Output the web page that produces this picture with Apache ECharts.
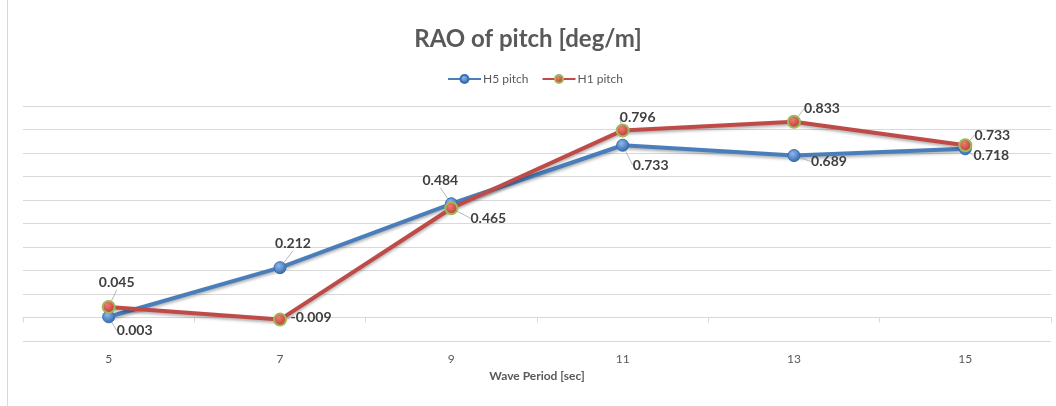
<!DOCTYPE html>
<html>
<head>
<meta charset="utf-8">
<title>RAO of pitch</title>
<script src="https://cdn.jsdelivr.net/npm/echarts@6/dist/echarts.min.js"></script>
<style>
  html, body { margin: 0; padding: 0; background: #ffffff; }
  #chart { width: 1056px; height: 406px; }
</style>
</head>
<body>
<div id="chart"></div>
<script>
// Wave periods (sec) and pitch RAO values (deg/m)
const periods = ['5', '7', '9', '11', '13', '15'];
const h5Pitch = [0.003, 0.212, 0.484, 0.733, 0.689, 0.718];
const h1Pitch = [0.045, -0.009, 0.465, 0.796, 0.833, 0.733];

// Label offsets from each marker centre [dx, dy], px
const h5LabelShift = [[26, 14], [13, -24], [-11, -23], [28, 20], [35, 6], [26, 7]];
const h1LabelShift = [[8, -24], [31, -2], [37, 10], [15, -13], [28, -13], [27, -10]];

const BLUE = '#4A7EBB';
const RED = '#BE4B48';

function sphere(light, dark) {
  return new echarts.graphic.RadialGradient(0.4, 0.35, 0.7, [
    { offset: 0, color: light },
    { offset: 1, color: dark }
  ]);
}

const labelFont = {
  show: true,
  position: 'inside',
  fontFamily: 'Lato, "Open Sans", sans-serif',
  fontWeight: 'bold',
  fontSize: 14,
  color: '#404040',
  formatter: p => p.value.toFixed(3)
};

const chart = echarts.init(document.getElementById('chart'), null, { renderer: 'canvas' });

chart.setOption({
  animation: false,
  backgroundColor: '#ffffff',
  title: {
    text: 'RAO of pitch [deg/m]',
    left: 'center',
    top: 22,
    textStyle: {
      fontFamily: 'Lato, "Open Sans", sans-serif',
      fontWeight: 'bold',
      fontSize: 24,
      color: '#595959'
    }
  },
  legend: {
    top: 68,
    left: 442,
    itemWidth: 33,
    itemHeight: 10,
    itemGap: 13,
    textStyle: {
      fontFamily: 'Lato, "Open Sans", sans-serif',
      fontSize: 12,
      color: '#595959',
      padding: [0, 0, 0, -3]
    },
    data: ['H5 pitch', 'H1 pitch']
  },
  grid: {
    left: 23,
    right: 5,
    top: 106,
    bottom: 65,
    containLabel: false
  },
  xAxis: {
    type: 'category',
    data: periods,
    boundaryGap: true,
    name: 'Wave Period [sec]',
    nameLocation: 'middle',
    nameGap: 23,
    nameTextStyle: {
      fontFamily: 'Lato, "Open Sans", sans-serif',
      fontWeight: 'bold',
      fontSize: 12,
      color: '#595959',
      verticalAlign: 'top'
    },
    axisLine: { lineStyle: { color: '#D9D9D9', width: 1 } },
    axisTick: { show: true, length: 5, lineStyle: { color: '#D9D9D9' } },
    axisLabel: {
      margin: 12,
      fontFamily: 'Lato, "Open Sans", sans-serif',
      fontSize: 12,
      color: '#595959'
    },
    splitLine: { show: false }
  },
  yAxis: {
    type: 'value',
    min: -0.1,
    max: 0.9,
    interval: 0.1,
    axisLine: { show: false },
    axisTick: { show: false },
    axisLabel: { show: false },
    splitLine: { lineStyle: { color: '#D9D9D9', width: 1 } }
  },
  graphic: [{
    type: 'line',
    shape: { x1: 7.5, y1: 0, x2: 7.5, y2: 406 },
    style: { stroke: '#D9D9D9', lineWidth: 1 },
    silent: true
  }],
  series: [
    {
      name: 'H5 pitch',
      type: 'line',
      data: h5Pitch,
      symbol: 'circle',
      symbolSize: 12,
      lineStyle: {
        color: BLUE, width: 4,
        shadowColor: 'rgba(0,0,0,0.3)', shadowBlur: 3, shadowOffsetY: 2
      },
      itemStyle: {
        color: sphere('#8DB8EC', '#2C62A8'),
        borderColor: '#3A6DB0',
        borderWidth: 1
      },
      label: labelFont,
      labelLine: { show: true, lineStyle: { color: '#A6A6A6', width: 0.8 } },
      labelLayout: p => ({ dx: h5LabelShift[p.dataIndex][0], dy: h5LabelShift[p.dataIndex][1] }),
      z: 2
    },
    {
      name: 'H1 pitch',
      type: 'line',
      data: h1Pitch,
      symbol: 'circle',
      symbolSize: 12,
      lineStyle: {
        color: RED, width: 4,
        shadowColor: 'rgba(0,0,0,0.3)', shadowBlur: 3, shadowOffsetY: 2
      },
      itemStyle: {
        color: sphere('#F07C72', '#B8302C'),
        borderColor: '#9BBB59',
        borderWidth: 2
      },
      label: labelFont,
      labelLine: { show: true, lineStyle: { color: '#A6A6A6', width: 0.8 } },
      labelLayout: p => ({ dx: h1LabelShift[p.dataIndex][0], dy: h1LabelShift[p.dataIndex][1] }),
      z: 3
    }
  ]
});
</script>
</body>
</html>
